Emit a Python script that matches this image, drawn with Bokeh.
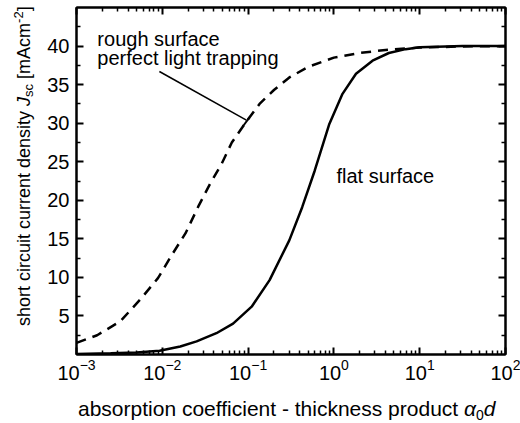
from bokeh.plotting import figure
from bokeh.models import (LogAxis, LinearAxis, FixedTicker, Label, Range1d,
                          CustomJSTickFormatter, Div)
from bokeh.layouts import row, column
from bokeh.embed import file_html
from bokeh.resources import INLINE

# ---------------- data ----------------
# flat surface (solid line)
ad_flat = [0.001, 0.0025, 0.005, 0.0093, 0.0162, 0.0251, 0.0427, 0.0668, 0.11,
           0.178, 0.302, 0.427, 0.596, 0.885, 1.26, 1.81, 2.82, 4.37, 6.86, 10.0,
           31.6, 100.0]
j_flat = [0.05, 0.15, 0.26, 0.48, 1.03, 1.7, 2.76, 4.0, 6.2,
          9.65, 14.8, 19.1, 23.8, 29.9, 33.8, 36.4, 38.1, 39.1, 39.6, 39.85,
          40.0, 40.0]

# rough surface, perfect light trapping (dashed line)
ad_trap = [0.001, 0.00174, 0.00324, 0.0055, 0.0089, 0.0129, 0.0186, 0.0263,
           0.0359, 0.049, 0.0646, 0.0912, 0.136, 0.2, 0.3, 0.5, 1.0, 2.0, 4.0,
           10.0, 31.6, 100.0]
j_trap = [1.5, 2.5, 4.3, 7.1, 9.9, 12.9, 15.7, 19.2,
          22.1, 24.7, 27.5, 29.9, 32.5, 34.3, 35.9, 37.3, 38.5, 39.1, 39.5,
          39.8, 39.95, 40.0]

y_ticks = [5, 10, 15, 20, 25, 30, 35, 40]
y_minor = [2.5, 7.5, 12.5, 17.5, 22.5, 27.5, 32.5, 37.5, 42.5]
x_decades = [1e-3, 1e-2, 1e-1, 1e0, 1e1, 1e2]

# annotation anchors
lead_x = [0.00925, 0.0955]
lead_y = [36.7, 30.4]
cap_x = [0.0871, 0.104]
cap_y = [29.6, 30.75]
txt_rough = (0.00175, 40.9, "rough surface")
txt_perfect = (0.00175, 38.5, "perfect light trapping")
txt_flat = (1.07, 23.2, "flat surface")

FONT = "Liberation Sans"

x_minor = [m * d for d in x_decades[:-1] for m in range(2, 10)]

p = figure(width=476, height=392, x_axis_type="log",
           x_range=Range1d(1e-3, 1e2), y_range=Range1d(0, 45),
           output_backend="svg", toolbar_location=None,
           min_border_left=32, min_border_right=15, min_border_top=7,
           min_border_bottom=38, margin=0)
p.xgrid.visible = False
p.ygrid.visible = False
p.outline_line_color = "black"
p.outline_line_width = 2
p.background_fill_color = "white"
p.border_fill_color = "white"


def style(ax, size="20px"):
    ax.axis_line_width = 2
    ax.axis_line_color = "black"
    ax.major_tick_in = 7
    ax.major_tick_out = 0
    ax.minor_tick_in = 4
    ax.minor_tick_out = 0
    ax.major_tick_line_width = 2
    ax.minor_tick_line_width = 1.5
    ax.major_tick_line_color = "black"
    ax.minor_tick_line_color = "black"
    ax.major_label_text_font = FONT
    ax.major_label_text_font_size = size
    ax.major_label_text_color = "black"


xt = FixedTicker(ticks=x_decades, minor_ticks=x_minor)
yt = FixedTicker(ticks=y_ticks, minor_ticks=y_minor)

p.xaxis.ticker = xt
p.yaxis.ticker = yt
style(p.xaxis[0])
style(p.yaxis[0])
p.xaxis.major_label_standoff = 4
p.yaxis.major_label_standoff = 7

blank = CustomJSTickFormatter(code="return ''")
top = LogAxis(ticker=xt, formatter=blank, major_label_standoff=0)
right = LinearAxis(ticker=yt, formatter=blank, major_label_standoff=0)
style(top, "1px")
style(right, "1px")
p.add_layout(top, "above")
p.add_layout(right, "right")

# curves
p.line(ad_flat, j_flat, line_color="black", line_width=2.5)
p.line(ad_trap, j_trap, line_color="black", line_width=2.5, line_dash="10 7")

# leader line
p.line(lead_x, lead_y, line_color="black", line_width=1.5)
p.line(cap_x, cap_y, line_color="black", line_width=2)

for (tx, ty, tt) in (txt_rough, txt_perfect, txt_flat):
    p.add_layout(Label(x=tx, y=ty, text=tt, text_font=FONT,
                       text_font_size="20px", text_color="black",
                       text_align="left", text_baseline="alphabetic"))

# ---- axis titles with italic / sub / superscript parts ----
ylab_html = (
    '<div style="position:relative;width:44px;height:423px;">'
    '<div style="position:absolute;left:0;top:0;transform-origin:0 0;'
    'transform:translate(14.8px,326px) rotate(-90deg);white-space:nowrap;'
    "font-family:'Liberation Sans';font-size:18px;line-height:18px;color:#000;\">"
    'short circuit current density <i>J</i>'
    '<sub style="font-size:13px;line-height:0;vertical-align:-3px">sc</sub>'
    ' [mAcm<sup style="font-size:13px;line-height:0;vertical-align:7px">-2</sup>]'
    '</div></div>'
)
xlab_html = (
    '<div style="position:relative;width:476px;height:31px;">'
    '<div style="position:absolute;left:34px;top:6px;white-space:nowrap;'
    "font-family:'Liberation Sans';font-size:21px;line-height:21px;color:#000;\">"
    'absorption coefficient - thickness product <i>&alpha;</i>'
    '<sub style="font-size:14px;line-height:0;vertical-align:-4px">0</sub><i>d</i>'
    '</div></div>'
)
ydiv = Div(text=ylab_html, width=44, height=423, margin=0)
xdiv = Div(text=xlab_html, width=476, height=31, margin=0)

layout = row(ydiv, column(p, xdiv, spacing=0, margin=0), spacing=0, margin=0)

open("out.html", "w").write(file_html(layout, INLINE))
